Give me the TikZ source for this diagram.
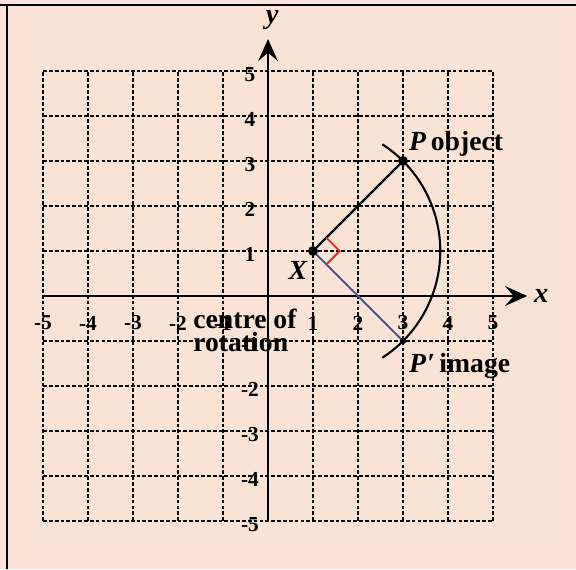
\documentclass[tikz,border=0pt]{standalone}
\usepackage{fontspec}
\setmainfont{Liberation Serif}
\usetikzlibrary{arrows.meta,calc}
\definecolor{outerbg}{RGB}{252,227,216}
\definecolor{innerbg}{RGB}{249,227,212}
\definecolor{blueline}{RGB}{70,85,160}
\definecolor{redmark}{RGB}{215,45,40}
\tikzset{
  gridline/.style={black, line width=0.75pt, dash pattern=on 2.4pt off 1.3pt},
  axisline/.style={black, line width=1.7pt, -{Stealth[length=14pt,width=12.5pt,inset=5.5pt]}},
  ticklabel/.style={font=\fontsize{13.5}{14}\bfseries, inner sep=0pt},
  biglabel/.style={font=\fontsize{17.5}{18}\bfseries, inner sep=0pt},
  dotmark/.style={black},
}
\begin{document}
\begin{tikzpicture}
\useasboundingbox (-5.956,-6.067) rectangle (6.844,6.578);
% background
\fill[outerbg] (-5.956,-6.067) rectangle (6.844,6.578);
\fill[innerbg] (-5.511,-5.489) rectangle (6.444,6.467);
\draw[black, line width=0.8pt] (-5.956,6.467) -- (6.844,6.467);
\draw[black, line width=1.3pt] (-5.8,6.467) -- (-5.8,-6.067);
% grid
\draw[gridline] (-5,-5) grid (5,5);
% axes
\coordinate (O) at (0,0);
\coordinate (xs) at (-5,0);
\coordinate (xe) at (5.76,0);
\coordinate (ys) at (0,-5);
\coordinate (ye) at (0,5.71);
\draw[axisline] (xs) -- (xe);
\draw[axisline] (ys) -- (ye);
\node[biglabel, font=\fontsize{18}{18}\bfseries\itshape] (xlab) at (6.07,0.0) {x};
\node[biglabel, font=\fontsize{18}{18}\bfseries\itshape] (ylab) at (0.09,6.13) {y};
% tick labels
\foreach \v [count=\k] in {-5,-4,-3,-2,-1,1,2,3,4,5} {
  \node[ticklabel] (xt\k) at (\v,-0.6) {\v};
  \node[ticklabel] (yt\k) at (-0.4,\v-0.07) {\v};
}
% points
\coordinate (X) at (1,1);
\coordinate (P) at (3,3);
\coordinate (Pp) at (3,-1);
% arc
\draw[black, line width=1.3pt] ([shift={(57:2.828)}]X) arc[start angle=57, end angle=-57, radius=2.828];
% lines
\draw[black, line width=1.5pt] (X) -- (P);
\draw[blueline, line width=1.3pt] (X) -- (Pp);
% right angle mark
\coordinate (ra) at ($(X)!0.148!(P)$);
\coordinate (rb) at ($(X)!0.148!(Pp)$);
\draw[redmark, line width=1.2pt] (ra) -- ($(ra)+(rb)-(X)$) -- (rb);
% dots
\fill[dotmark] (X) circle (0.11);
\fill[dotmark] (P) circle (0.11);
\fill[dotmark] (Pp) circle (0.07);
% labels
\node[biglabel, anchor=base west] (Plab) at (3.13,3.244) {\textit{P}\,object};
\node[biglabel, anchor=base west] (Pplab) at (3.13,-1.689) {\textit{P\/}\kern0.5pt\textit{\char"2032}\,image};
\node[biglabel, anchor=base] (Xlab) at (0.667,0.356) {\textit{X}};
\node[biglabel, anchor=base west] (c1) at (-1.667,-0.711) {centre of};
\node[biglabel, anchor=base west] (c2) at (-1.667,-1.244) {rotation};
\end{tikzpicture}
\end{document}
